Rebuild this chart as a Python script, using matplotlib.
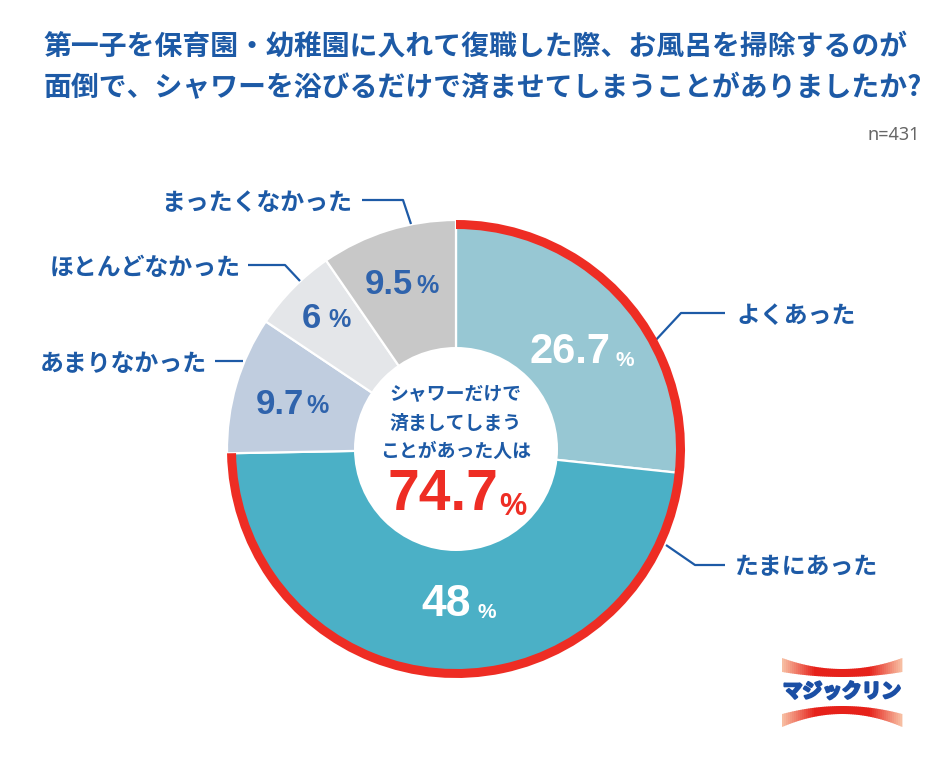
import matplotlib
matplotlib.use('Agg')
import matplotlib.pyplot as plt
import matplotlib.patheffects as pe
from matplotlib.patches import Wedge, Circle, Polygon
import numpy as np

plt.rcParams['font.family'] = ['Noto Sans CJK JP', 'DejaVu Sans']
NARROW = ['Liberation Sans', 'DejaVu Sans']

title_lines = ['第一子を保育園・幼稚園に入れて復職した際、お風呂を掃除するのが',
               '面倒で、シャワーを浴びるだけで済ませてしまうことがありましたか?']
categories = ['よくあった', 'たまにあった', 'あまりなかった', 'ほとんどなかった', 'まったくなかった']
values = [26.7, 48, 9.7, 6, 9.5]
value_labels = ['26.7', '48', '9.7', '6', '9.5']
colors = ['#97c7d3', '#4bb0c6', '#c0cddf', '#e4e6e9', '#c8c8c8']
text_colors = ['white', 'white', '#2f63ac', '#2f63ac', '#2f63ac']
sizes = [30, 32, 25, 25, 25]
center_lines = ['シャワーだけで', '済ましてしまう', 'ことがあった人は']
center_value = '74.7'
BLUE = '#1d5aa6'
RED = '#ee2d24'

W, H = 946, 769
fig = plt.figure(figsize=(W/100, H/100), dpi=100)
ax = fig.add_axes([0, 0, 1, 1])
ax.set_xlim(0, W); ax.set_ylim(H, 0); ax.axis('off')
cx, cy, R = 456, 449, 229
r_in = 102

start = -90.0
angles = []
a = start
for v in values:
    b = a + v*3.6
    angles.append((a, b))
    a = b
angles[-1] = (angles[-1][0], 270.0)
for (a, b), c in zip(angles, colors):
    ax.add_patch(Wedge((cx, cy), R, a, b, fc=c, ec='white', lw=1.6))
ring_end = angles[1][1]
ax.add_patch(Wedge((cx, cy), R, start, ring_end, width=9, fc=RED, ec='none', zorder=3))
ax.add_patch(Circle((cx, cy), r_in, fc='white', ec='none', zorder=4))

for i, t in enumerate(title_lines):
    ax.text(43.5, 47 + i*41, t, fontsize=20.05, fontweight='bold', color=BLUE, va='center', ha='left')
ax.text(920, 135, 'n=431', fontsize=13, color='#666666', ha='right', va='center', family=['Noto Sans', 'DejaVu Sans'])

num_right = [(610, 352), (471, 605), (304, 404), (321, 318), (413, 285)]
for (x, y), s, c, fs in zip(num_right, value_labels, text_colors, sizes):
    ax.text(x, y, s, fontsize=fs, fontweight='bold', color=c, ha='right', va='center', zorder=5, family=NARROW)
pct_pos = [(625, 361), (487, 613), (317, 406), (339, 320), (427, 286)]
pct_sizes = [15, 15, 18, 18, 18]
for (x, y), c, fs in zip(pct_pos, text_colors, pct_sizes):
    ax.text(x, y, '%', fontsize=fs, fontweight='bold', color=c, ha='center', va='center', zorder=5, family=NARROW)

cat_pos = [(736, 316, 'left'), (735, 567, 'left'), (207, 364, 'right'), (241, 268, 'right'), (352, 203, 'right')]
for (x, y, ha), s in zip(cat_pos, categories):
    ax.text(x, y, s, fontsize=17.2, fontweight='bold', color=BLUE, ha=ha, va='center')

leaders = [[(725, 313), (681, 313), (654, 342)],
           [(725, 565), (695, 565), (666, 545)],
           [(243, 361), (215, 361)],
           [(248, 265), (285, 265), (300, 281)],
           [(362, 200), (403, 200), (411, 224)]]
for pts in leaders:
    xs, ys = zip(*pts)
    ax.plot(xs, ys, color=BLUE, lw=1.6, zorder=2, solid_capstyle='butt')

for i, s in enumerate(center_lines):
    ax.text(456, 395 + i*28, s, fontsize=13.6, fontweight='bold', color=BLUE, ha='center', va='center', zorder=6)
ax.text(443, 495, center_value, fontsize=41, fontweight='bold', color=RED, ha='center', va='center', zorder=6, family=NARROW)
ax.text(513, 507, '%', fontsize=22, fontweight='bold', color=RED, ha='center', va='center', zorder=6, family=NARROW)

# brand logo: two curved bands fading from red at the centre to peach at the ends
lx0, lx1, lc = 782, 902, 842
edges = np.linspace(lx0, lx1, 61)
for x0, x1 in zip(edges[:-1], edges[1:]):
    xm = (x0 + x1) / 2
    t = abs(xm - lc) / (lx1 - lc)
    f = np.clip((t - 0.45) / 0.55, 0, 1)
    col = np.array([0.90, 0.13, 0.10]) * (1 - f) + np.array([0.97, 0.76, 0.65]) * f
    def q(v0, v1, x):
        return v1 + (v0 - v1) * ((x - lc) / (lx1 - lc)) ** 2
    for top0, top1, bot0, bot1 in [(658, 669, 672, 677), (714, 706, 727, 714)]:
        ax.add_patch(Polygon([(x0, q(top0, top1, x0)), (x1 + 0.4, q(top0, top1, x1)),
                              (x1 + 0.4, q(bot0, bot1, x1)), (x0, q(bot0, bot1, x0))],
                             fc=col, ec='none'))
ax.text(842, 692, 'マジックリン', fontsize=14.2, fontweight='bold', color='#1b4fa5', ha='center', va='center', zorder=3,
        path_effects=[pe.withStroke(linewidth=1.6, foreground='#1b4fa5')])

fig.savefig('out.png', dpi=100)
